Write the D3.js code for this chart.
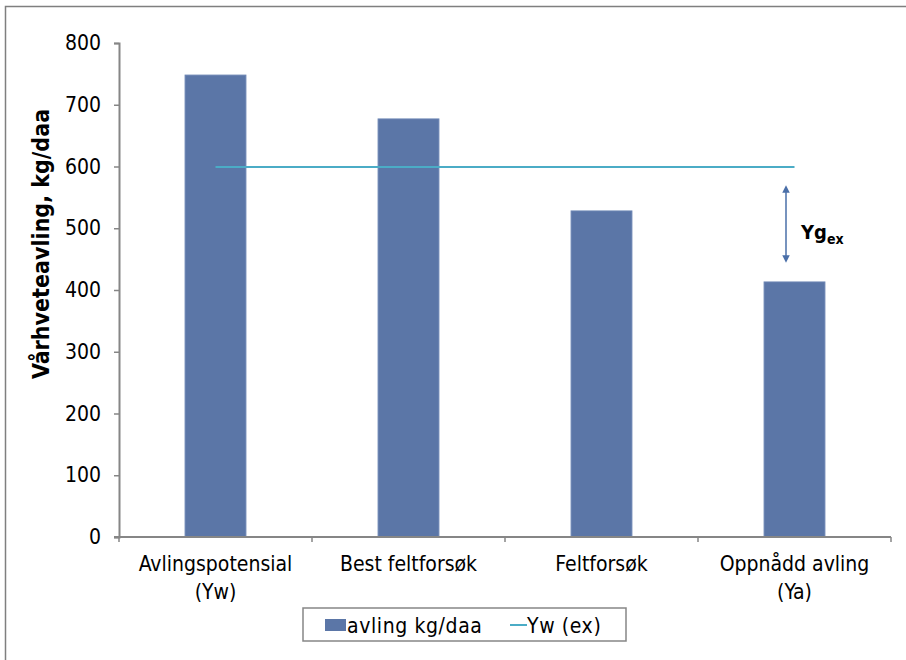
<!DOCTYPE html>
<html>
<head>
<meta charset="utf-8">
<script src="https://cdn.jsdelivr.net/npm/d3@7"></script>
<style>
body { margin: 0; background: #fff; }
svg text { font-family: "DejaVu Sans Condensed", "Liberation Sans Narrow", sans-serif; fill: #000; }
</style>
</head>
<body>
<script>
var categories = [["Avlingspotensial", "(Yw)"], ["Best feltforsøk"], ["Feltforsøk"], ["Oppnådd avling", "(Ya)"]];
var yields = [748, 677, 528, 413];
var ywEx = 599;
var yTicks = [0, 100, 200, 300, 400, 500, 600, 700, 800];

drawChart();

function drawChart() {
    var W = 906, H = 660;
    var pLeft = 119, pRight = 891, pTop = 43, pBottom = 537;

    var svg = d3.select("body").append("svg")
        .attr("width", W)
        .attr("height", H);

    // outer frame (only top and left visible)
    svg.append("path")
        .attr("d", "M5.5," + H + "V6.5H" + W)
        .attr("fill", "none")
        .attr("stroke", "#7f7f7f")
        .attr("stroke-width", 1.5);

    var x = d3.scaleBand().domain(d3.range(categories.length)).range([pLeft, pRight]);
    var y = d3.scaleLinear().domain([0, 800]).range([pBottom, pTop]);
    var barW = x.bandwidth() * 0.315;
    var cx = function (i) { return x(i) + x.bandwidth() / 2; };

    var g = svg.append("g");

    // bars
    g.selectAll("rect.bar").data(yields).enter().append("rect")
        .attr("class", "bar")
        .attr("x", function (d, i) { return cx(i) - barW / 2; })
        .attr("width", barW)
        .attr("y", function (d) { return y(d); })
        .attr("height", function (d) { return pBottom - y(d); })
        .attr("fill", "#5b76a7")
        .attr("stroke", "#6a84b3")
        .attr("stroke-width", 1);

    // Yw (ex) line
    g.append("line")
        .attr("x1", cx(0)).attr("x2", cx(categories.length - 1))
        .attr("y1", y(ywEx)).attr("y2", y(ywEx))
        .attr("stroke", "#4bacc6")
        .attr("stroke-width", 2);

    // y axis
    var yAxis = svg.append("g")
        .attr("transform", "translate(" + pLeft + ",0)")
        .call(d3.axisLeft(y).tickValues(yTicks).tickSize(5).tickPadding(13));
    yAxis.select(".domain").attr("stroke", "#868686").attr("stroke-width", 2);
    yAxis.selectAll(".tick line").attr("stroke", "#868686").attr("stroke-width", 1.5);
    yAxis.selectAll(".tick text").attr("font-size", 21);

    // x axis
    var xAxis = svg.append("g")
        .attr("transform", "translate(0," + pBottom + ")");
    xAxis.append("line")
        .attr("x1", pLeft - 5).attr("x2", pRight)
        .attr("stroke", "#868686").attr("stroke-width", 2);
    d3.range(categories.length + 1).forEach(function (i) {
        var xx = i < categories.length ? x(i) : pRight;
        xAxis.append("line")
            .attr("x1", xx).attr("x2", xx).attr("y1", 0).attr("y2", 5)
            .attr("stroke", "#868686").attr("stroke-width", 1.5);
    });
    categories.forEach(function (lines, i) {
        var t = xAxis.append("text")
            .attr("x", cx(i))
            .attr("y", 34)
            .attr("text-anchor", "middle")
            .attr("font-size", 21);
        lines.forEach(function (l, j) {
            t.append("tspan").attr("x", cx(i)).attr("dy", j === 0 ? 0 : 28).text(l);
        });
    });

    // y title
    svg.append("text")
        .attr("transform", "translate(49,244) rotate(-90)")
        .attr("text-anchor", "middle")
        .attr("font-size", 23)
        .attr("font-weight", "bold")
        .text("Vårhveteavling, kg/daa");

    // Yg_ex arrow
    var ax = 786;
    svg.append("defs").append("marker")
        .attr("id", "arr")
        .attr("viewBox", "0 0 10 10")
        .attr("refX", 5).attr("refY", 5)
        .attr("markerWidth", 5).attr("markerHeight", 5)
        .attr("orient", "auto-start-reverse")
        .append("path").attr("d", "M0,0L10,5L0,10z").attr("fill", "#4a6fa8");
    svg.append("line")
        .attr("x1", ax).attr("x2", ax)
        .attr("y1", y(ywEx) + 22).attr("y2", y(yields[3]) - 23)
        .attr("stroke", "#4a6fa8").attr("stroke-width", 1.5)
        .attr("marker-start", "url(#arr)")
        .attr("marker-end", "url(#arr)");
    var yg = svg.append("text")
        .attr("x", 801).attr("y", 239)
        .attr("font-size", 20).attr("font-weight", "bold");
    yg.append("tspan").text("Yg");
    yg.append("tspan").attr("font-size", 14).attr("dy", 5).text("ex");

    // legend
    var lg = svg.append("g").attr("transform", "translate(303,608)");
    lg.append("rect")
        .attr("width", 323).attr("height", 33)
        .attr("fill", "#fff").attr("stroke", "#868686").attr("stroke-width", 1.5);
    lg.append("rect")
        .attr("x", 22).attr("y", 11).attr("width", 21).attr("height", 12)
        .attr("fill", "#5b76a7");
    lg.append("text")
        .attr("x", 44).attr("y", 25).attr("font-size", 21)
        .attr("letter-spacing", 0.6)
        .text("avling kg/daa");
    lg.append("line")
        .attr("x1", 207).attr("x2", 224).attr("y1", 17).attr("y2", 17)
        .attr("stroke", "#4bacc6").attr("stroke-width", 2);
    lg.append("text")
        .attr("x", 224).attr("y", 25).attr("font-size", 21)
        .attr("letter-spacing", 0.6)
        .text("Yw (ex)");
}
</script>
</body>
</html>
